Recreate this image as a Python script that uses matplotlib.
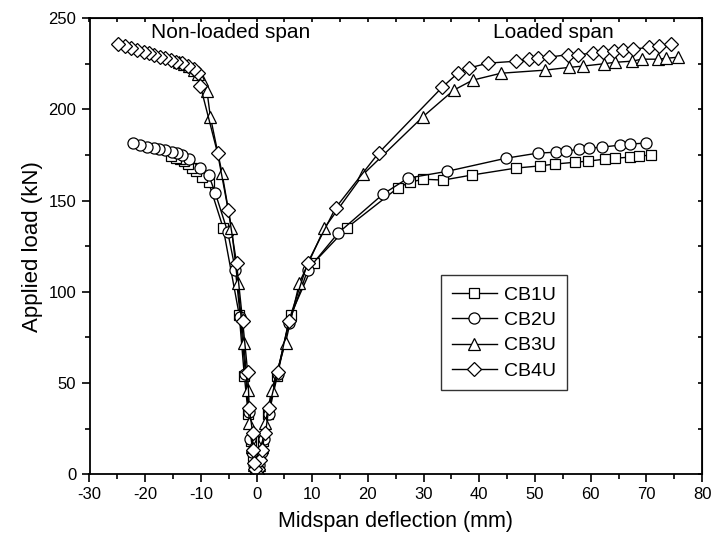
import matplotlib
matplotlib.use('Agg')
import matplotlib.pyplot as plt
from matplotlib.ticker import MultipleLocator

plt.rcParams['font.family'] = ['Liberation Sans', 'DejaVu Sans']
plt.rcParams['axes.unicode_minus'] = False

# CB1U (squares)
cb1u_load_x = [0, 0.3, 0.7, 1.2, 2.0, 3.6, 6.1, 10.3, 16.2, 25.4, 27.5, 29.9, 33.5, 38.7,
               46.6, 50.9, 53.6, 57.2, 59.5, 62.6, 64.4, 67.1, 68.7, 70.9]
cb1u_load_y = [0, 4, 10, 18, 33, 54, 87, 116, 135, 157, 160, 161.7, 161.2, 164,
               167.8, 169, 170, 171, 171.6, 172.7, 173.2, 173.8, 174.3, 175]
cb1u_non_x = [0, -0.3, -0.6, -1.0, -1.5, -2.2, -3.1, -6.0, -8.6, -9.8, -10.8, -11.6,
              -12.3, -13.0, -13.8, -14.5, -15.3]
cb1u_non_y = [0, 4, 10, 18, 33, 54, 87, 135, 160, 163, 166, 168,
              170, 171.5, 172.5, 173.5, 174.5]

# CB2U (circles)
cb2u_load_x = [0, 0.5, 0.9, 1.3, 2.2, 3.8, 5.8, 9.2, 14.6, 22.7, 27.2, 34.2, 44.8,
               50.5, 53.8, 55.6, 57.9, 59.7, 62.1, 65.3, 67.1, 70.0]
cb2u_load_y = [0, 5, 12, 19, 33, 55, 83, 112, 132, 153.5, 162.3, 166, 173.2,
               176, 176.5, 177, 178.2, 178.7, 179.3, 180.4, 181, 181.5]
cb2u_non_x = [0, -0.5, -0.8, -1.1, -1.4, -2.0, -2.9, -3.8, -5.2, -7.4, -8.6, -10.1,
              -12.2, -13.3, -14.2, -15.1, -16.4, -17.6, -18.5, -19.6, -20.9, -22.1]
cb2u_non_y = [0, 5, 12, 19, 34, 55, 86, 112, 133, 154, 164, 168,
              173, 175, 176, 176.5, 177.6, 178.2, 178.7, 179.3, 180.4, 181.5]

# CB3U (triangles)
cb3u_load_x = [0, 0.4, 0.9, 1.6, 2.7, 5.2, 7.7, 12.2, 19.2, 29.9, 35.4, 38.8, 43.9,
               51.8, 56.1, 58.6, 62.4, 64.4, 67.4, 69.2, 72.1, 73.6, 75.7]
cb3u_load_y = [0, 5, 15, 28, 46, 72, 105, 135, 164.5, 196, 210.5, 216, 219.8,
               221.5, 223, 223.7, 225, 225.8, 226.4, 227.5, 227.5, 228, 228.6]
cb3u_non_x = [0, -0.4, -0.8, -1.3, -1.6, -2.3, -3.4, -4.5, -6.2, -8.3, -8.9, -9.8,
              -10.5, -11.3, -12.2, -13.1, -14.0]
cb3u_non_y = [0, 5, 15, 28, 46, 72, 105, 135, 165, 196, 210, 216,
              219.5, 221.5, 223.5, 225, 226]

# CB4U (diamonds)
cb4u_load_x = [0, 0.3, 0.7, 0.9, 1.6, 2.2, 3.8, 5.8, 9.2, 14.2, 21.9, 33.3, 36.2,
               38.1, 41.5, 46.6, 48.9, 50.5, 52.5, 55.9, 57.7, 60.4, 62.2, 64.2,
               65.8, 67.6, 70.5, 72.3, 74.5]
cb4u_load_y = [0, 3, 8, 13, 22.5, 36, 56, 84, 116, 146, 176, 212, 220,
               222.6, 225.3, 226.4, 227.5, 228, 228.6, 230, 230, 230.8, 231.4, 232,
               232.5, 233, 234, 234.6, 235.7]
cb4u_non_x = [0, -0.3, -0.5, -0.7, -0.7, -1.3, -1.6, -2.5, -3.6, -5.1, -7.0, -10.1,
              -10.6, -11.3, -12.4, -13.3, -14.4, -15.3, -16.4, -17.4, -18.5, -19.4,
              -20.3, -21.4, -22.5, -23.6, -24.8]
cb4u_non_y = [0, 3, 6, 13, 22.5, 36, 56, 84, 116, 145, 176, 213,
              219.8, 222, 223.7, 225.3, 226, 227, 228, 228.6, 229.7, 230.8,
              231.4, 232.5, 233.5, 234.6, 236]

series = [
    ('CB1U', 's', 7.2, cb1u_load_x, cb1u_load_y, cb1u_non_x, cb1u_non_y),
    ('CB2U', 'o', 8, cb2u_load_x, cb2u_load_y, cb2u_non_x, cb2u_non_y),
    ('CB3U', '^', 8.5, cb3u_load_x, cb3u_load_y, cb3u_non_x, cb3u_non_y),
    ('CB4U', 'D', 6.8, cb4u_load_x, cb4u_load_y, cb4u_non_x, cb4u_non_y),
]

fig = plt.figure(figsize=(7.16, 5.5), dpi=100)
ax = fig.add_axes([0.125, 0.138, 0.8555, 0.829])

for name, mk, ms, lx, ly, nx, ny in series:
    style = dict(color='black', lw=1.0, marker=mk, ms=ms, mfc='white',
                 mec='black', mew=0.9)
    ax.plot(lx, ly, label=name, **style)
    ax.plot(nx, ny, **style)

ax.set_xlim(-30, 80)
ax.set_ylim(0, 250)
ax.xaxis.set_major_locator(MultipleLocator(10))
ax.xaxis.set_minor_locator(MultipleLocator(5))
ax.yaxis.set_major_locator(MultipleLocator(50))
ax.yaxis.set_minor_locator(MultipleLocator(25))
ax.tick_params(which='major', direction='out', length=6, width=1.2, labelsize=12)
ax.tick_params(which='minor', direction='out', length=3.5, width=1.2)
for s in ax.spines.values():
    s.set_linewidth(1.3)

# inward ticks on the top and right frame
ax_top = ax.secondary_xaxis('top')
ax_top.xaxis.set_major_locator(MultipleLocator(10))
ax_top.xaxis.set_minor_locator(MultipleLocator(5))
ax_top.tick_params(which='both', direction='in', length=3, width=1.2, labeltop=False)
ax_right = ax.secondary_yaxis('right')
ax_right.yaxis.set_major_locator(MultipleLocator(50))
ax_right.yaxis.set_minor_locator(MultipleLocator(25))
ax_right.tick_params(which='both', direction='in', length=3, width=1.2, labelright=False)

ax.set_xlabel('Midspan deflection (mm)', fontsize=15.5, labelpad=6)
ax.set_ylabel('Applied load (kN)', fontsize=16, labelpad=4)

ax.text(-4.7, 242, 'Non-loaded span', fontsize=15, ha='center', va='center')
ax.text(53.3, 242, 'Loaded span', fontsize=15, ha='center', va='center')

leg = ax.legend(loc='upper left', bbox_to_anchor=(0.574, 0.436), fontsize=14,
                frameon=True, fancybox=False, edgecolor='black', borderaxespad=0,
                handlelength=2.3, handletextpad=0.4, borderpad=0.55, labelspacing=0.4)
leg.get_frame().set_linewidth(1.0)

fig.savefig('out.png', dpi=100)
